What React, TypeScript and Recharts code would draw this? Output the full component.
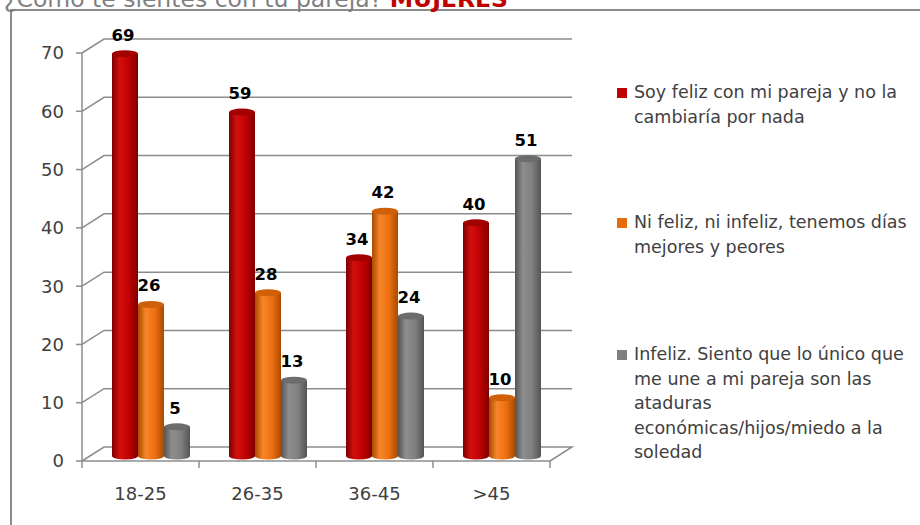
import React from "react";
import { BarChart, Bar, XAxis, YAxis, CartesianGrid, LabelList } from "recharts";

// values
const ageGroups = ["18-25", "26-35", "36-45", ">45"];
const felizValues = [69, 59, 34, 40];
const niFelizValues = [26, 28, 42, 10];
const infelizValues = [5, 13, 24, 51];
const yTicks = [0, 10, 20, 30, 40, 50, 60, 70];

const titleText = "¿Cómo te sientes con tu pareja? ";
const titleStrong = "MUJERES";

const seriesNames = [
  "Soy feliz con mi pareja y no la cambiaría por nada",
  "Ni feliz, ni infeliz, tenemos días mejores y peores",
  "Infeliz. Siento que lo único que me une a mi pareja son las ataduras económicas/hijos/miedo a la soledad",
];
// line breaks as they appear in the legend
const legendLines = [
  ["Soy feliz con mi pareja y no la", "cambiaría por nada"],
  ["Ni feliz, ni infeliz, tenemos días", "mejores y peores"],
  [
    "Infeliz. Siento que lo único que",
    "me une a mi pareja son las",
    "ataduras",
    "económicas/hijos/miedo a la",
    "soledad",
  ],
];

const data = ageGroups.map((group, i) => ({
  group,
  feliz: felizValues[i],
  niFeliz: niFelizValues[i],
  infeliz: infelizValues[i],
}));

const W = 920;
const H = 525;
const margin = { top: 53, right: 370, bottom: 34, left: 22 };
const Y_AXIS_W = 60;
const X_AXIS_H = 30;
const PLOT_LEFT = margin.left + Y_AXIS_W;
const PLOT_RIGHT = W - margin.right;
const PLOT_BOTTOM = H - margin.bottom - X_AXIS_H;
const BAND = (PLOT_RIGHT - PLOT_LEFT) / ageGroups.length;

// fake 3d: back wall offset and bar depth offset
const WALL_DX = 22;
const WALL_DY = 14;
const DEPTH_X = 10;
const DEPTH_Y = 5;
const RY = 3.5;

const GRID = "#8c8c8c";
const TEXT = "#404040";
const FONT = "'DejaVu Sans', sans-serif";

const palette = [
  { id: "cylRed", dark: "#7e0000", base: "#c00000", light: "#d21010", top: "#a30000", key: "#c00000" },
  { id: "cylOrange", dark: "#a84a00", base: "#ee7010", light: "#f8862a", top: "#d06008", key: "#e46c0a" },
  { id: "cylGray", dark: "#545454", base: "#808080", light: "#8e8e8e", top: "#6c6c6c", key: "#808080" },
];

const makeCylinder = (c: (typeof palette)[number]) => (props: any) => {
  const { x, y, width, height } = props;
  if (width == null || height == null || isNaN(y)) return <g />;
  const x0 = x + DEPTH_X;
  const yTop = y - DEPTH_Y;
  const yBot = yTop + height;
  const rx = width / 2;
  return (
    <g>
      <path
        d={`M${x0},${yTop} L${x0},${yBot} A${rx},${RY} 0 0 0 ${x0 + width},${yBot} L${x0 + width},${yTop} Z`}
        fill={`url(#${c.id})`}
      />
      <ellipse cx={x0 + rx} cy={yTop} rx={rx} ry={RY} fill={c.top} />
    </g>
  );
};

const renderValueLabel = (props: any) => {
  const { x, y, width, value } = props;
  return (
    <text
      x={x + width / 2 + DEPTH_X - 2}
      y={y - DEPTH_Y - 13}
      textAnchor="middle"
      fontFamily={FONT}
      fontWeight="bold"
      fontSize={16.5}
      fill="#000"
    >
      {value}
    </text>
  );
};

// gridline: diagonal from the front axis to the back wall, then along the wall
const gridLine = (p: any) => {
  const { x1, x2, y1 } = p;
  const isFloor = Math.abs(y1 - PLOT_BOTTOM) < 0.5;
  let d = `M${x1},${y1} L${x1 + WALL_DX},${y1 - WALL_DY} L${x2 + WALL_DX},${y1 - WALL_DY}`;
  if (isFloor) d += ` L${x2},${y1}`;
  return <path key={`g-${y1}`} d={d} stroke={GRID} strokeWidth={1.5} fill="none" />;
};

const renderAgeTick = (props: any) => {
  const { x, payload, index } = props;
  const half = BAND / 2;
  return (
    <g>
      <line x1={x - half} y1={PLOT_BOTTOM} x2={x - half} y2={PLOT_BOTTOM + 7} stroke={GRID} strokeWidth={1.5} />
      {index === ageGroups.length - 1 && (
        <line x1={x + half} y1={PLOT_BOTTOM} x2={x + half} y2={PLOT_BOTTOM + 7} stroke={GRID} strokeWidth={1.5} />
      )}
      <text x={x} y={PLOT_BOTTOM + 39} textAnchor="middle" fontFamily={FONT} fontSize={18} fill={TEXT}>
        {payload.value}
      </text>
    </g>
  );
};

const legendTops = [80, 210, 342];

export default function App() {
  const keys = ["feliz", "niFeliz", "infeliz"];
  return (
    <div style={{ position: "absolute", left: 0, top: 0, width: W, height: H, background: "#fff", overflow: "hidden" }}>
      <div
        style={{
          position: "absolute",
          left: 10,
          top: 9,
          width: W,
          height: H,
          borderLeft: `2px solid ${GRID}`,
          borderTop: `2px solid ${GRID}`,
        }}
      />
      <div
        style={{
          position: "absolute",
          left: 4,
          top: -12,
          fontFamily: FONT,
          fontSize: 23.5,
          lineHeight: "23px",
          color: "#7f7f7f",
          whiteSpace: "nowrap",
        }}
      >
        {titleText}
        <span style={{ color: "#c00000", fontWeight: "bold" }}>{titleStrong}</span>
      </div>

      <div style={{ position: "absolute", left: 0, top: 0 }}>
        <BarChart width={W} height={H} data={data} margin={margin} barSize={26} barGap={0}>
          <defs>
            {palette.map((c) => (
              <linearGradient key={c.id} id={c.id} x1="0" y1="0" x2="1" y2="0">
                <stop offset="0%" stopColor={c.dark} />
                <stop offset="30%" stopColor={c.light} />
                <stop offset="65%" stopColor={c.base} />
                <stop offset="100%" stopColor={c.dark} />
              </linearGradient>
            ))}
          </defs>
          <CartesianGrid vertical={false} horizontal={gridLine} />
          <XAxis
            dataKey="group"
            height={X_AXIS_H}
            interval={0}
            tickLine={false}
            axisLine={{ stroke: GRID, strokeWidth: 1.5 }}
            tick={renderAgeTick}
          />
          <YAxis
            width={Y_AXIS_W}
            domain={[0, 70]}
            ticks={yTicks}
            interval={0}
            tickSize={6}
            tickMargin={12}
            axisLine={{ stroke: GRID, strokeWidth: 1.5 }}
            tickLine={{ stroke: GRID, strokeWidth: 1.5 }}
            tick={{ fontFamily: FONT, fontSize: 18, fill: TEXT }}
          />
          {keys.map((k, i) => (
            <Bar
              key={k}
              dataKey={k}
              name={seriesNames[i]}
              isAnimationActive={false}
              fill={palette[i].base}
              shape={makeCylinder(palette[i])}
            >
              <LabelList dataKey={k} content={renderValueLabel} />
            </Bar>
          ))}
        </BarChart>
      </div>

      {legendLines.map((lines, i) => (
        <div
          key={seriesNames[i]}
          style={{ position: "absolute", left: 617, top: legendTops[i], fontFamily: FONT, fontSize: 17.5, color: TEXT }}
        >
          <div
            style={{ position: "absolute", left: 0, top: 8, width: 10, height: 10, background: palette[i].key }}
          />
          {lines.map((ln) => (
            <div key={ln} style={{ marginLeft: 17, lineHeight: "24.5px", whiteSpace: "nowrap" }}>
              {ln}
            </div>
          ))}
        </div>
      ))}
    </div>
  );
}
